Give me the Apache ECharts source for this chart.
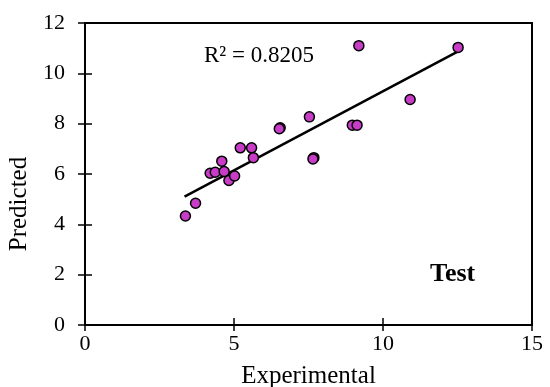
<!DOCTYPE html>
<html>
<head>
<meta charset="utf-8">
<script src="https://cdn.jsdelivr.net/npm/echarts@6/dist/echarts.min.js"></script>
<style>html,body{margin:0;padding:0;background:#fff;}#c{width:550px;height:387px;}</style>
</head>
<body>
<div id="c"></div>
<script>
const experimental = [3.37, 3.71, 4.20, 4.37, 4.59, 4.67, 4.83, 5.02, 5.21, 5.59, 5.65, 6.55, 6.52, 7.53, 7.68, 7.65, 8.97, 9.13, 9.19, 10.91, 12.52];
const predicted    = [4.33, 4.84, 6.03, 6.07, 6.51, 6.10, 5.74, 5.92, 7.04, 7.04, 6.65, 7.84, 7.80, 8.27, 6.65, 6.60, 7.94, 7.94, 11.10, 8.96, 11.03];
const trendX = [3.34, 12.52];
const trendY = [5.10, 10.87];
const xTicks = [0, 5, 10, 15];
const yTicks = [0, 2, 4, 6, 8, 10, 12];
const r2Label = 'R² = 0.8205';
const setLabel = 'Test';

const points = experimental.map((x, i) => [x, predicted[i]]);
const trend = trendX.map((x, i) => [x, trendY[i]]);
const font = '"Liberation Serif", "Times New Roman", serif';

const chart = echarts.init(document.getElementById('c'));
const axisBase = {
  type: 'value',
  splitLine: { show: false },
};
chart.setOption({
  animation: false,
  backgroundColor: '#fff',
  grid: { left: 85, top: 23, right: 18, bottom: 62, containLabel: false, outerBoundsMode: 'none', show: true, borderColor: '#000', borderWidth: 2, backgroundColor: 'transparent' },
  xAxis: [
    Object.assign({}, axisBase, {
      min: xTicks[0], max: xTicks[xTicks.length - 1], interval: 5,
      name: 'Experimental', nameLocation: 'middle', nameGap: 39,
      nameTextStyle: { fontFamily: font, fontSize: 25, color: '#000' },
      axisLine: { lineStyle: { color: '#000', width: 2 } },
      axisTick: { inside: false, length: 6, lineStyle: { color: '#000', width: 1.5 } },
      axisLabel: { fontFamily: font, fontSize: 22, color: '#000', margin: 8 }
    }),
    Object.assign({}, axisBase, {
      min: xTicks[0], max: xTicks[xTicks.length - 1], interval: 5, position: 'bottom',
      axisLine: { show: false },
      axisTick: { inside: true, length: 7, lineStyle: { color: '#000', width: 1.5 } },
      axisLabel: { show: false }
    })
  ],
  yAxis: [
    Object.assign({}, axisBase, {
      min: yTicks[0], max: yTicks[yTicks.length - 1], interval: 2,
      name: 'Predicted', nameLocation: 'middle', nameGap: 44,
      nameTextStyle: { fontFamily: font, fontSize: 25, color: '#000', padding: [0, 0, 0, -60] },
      axisLine: { lineStyle: { color: '#000', width: 2 } },
      axisTick: { inside: false, length: 7, lineStyle: { color: '#000', width: 1.5 } },
      axisLabel: { fontFamily: font, fontSize: 22, color: '#000', margin: 20 }
    }),
    Object.assign({}, axisBase, {
      min: yTicks[0], max: yTicks[yTicks.length - 1], interval: 2, position: 'left',
      axisLine: { show: false },
      axisTick: { inside: true, length: 7, lineStyle: { color: '#000', width: 1.5 } },
      axisLabel: { show: false }
    })
  ],
  series: [
    {
      type: 'line', data: trend, showSymbol: false, symbol: 'none',
      lineStyle: { color: '#000', width: 2.5 }, z: 3
    },
    {
      type: 'scatter', data: points, symbol: 'circle', symbolSize: 10,
      itemStyle: { color: '#C83CC8', borderColor: '#000', borderWidth: 1.5, opacity: 1 }, z: 4
    }
  ],
  graphic: [
    { type: 'text', left: 204, top: 44, style: { text: r2Label, font: '23px ' + font, fill: '#000' } },
    { type: 'text', left: 430, top: 261, style: { text: setLabel, font: 'bold 26px ' + font, fill: '#000' } }
  ]
});
</script>
</body>
</html>
